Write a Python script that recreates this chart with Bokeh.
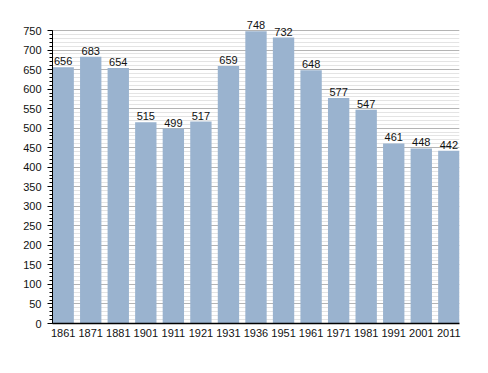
from bokeh.plotting import figure
from bokeh.models import Range1d, ColumnDataSource, LabelSet, FixedTicker, SingleIntervalTicker
from bokeh.core.properties import value
from bokeh.embed import file_html
from bokeh.resources import INLINE

years = ["1861", "1871", "1881", "1901", "1911", "1921", "1931", "1936",
         "1951", "1961", "1971", "1981", "1991", "2001", "2011"]
population = [656, 683, 654, 515, 499, 517, 659, 748, 732, 648, 577, 547, 461, 448, 442]

w = 0.775
idx = list(range(len(years)))
src = ColumnDataSource(dict(x=idx, top=population, lab=[str(v) for v in population]))

fh = 307
ytop = 750 * fh / 293.0

p = figure(frame_width=407, frame_height=fh, output_backend="svg", toolbar_location=None,
           x_range=Range1d(-w / 2, len(years) - 1 + w / 2), y_range=Range1d(0, ytop),
           min_border_left=52, min_border_right=22, min_border_top=16, min_border_bottom=34)
p.outline_line_color = None
p.background_fill_color = "white"

p.vbar(x="x", top="top", width=w, source=src, fill_color="#9ab3cf", line_color=None)

labels = LabelSet(x="x", y="top", text="lab", source=src, text_align="center",
                  text_baseline="bottom", y_offset=2, text_font_size="11px",
                  text_font=value("Liberation Sans"), text_color="#111111")
p.add_layout(labels)

# y axis
p.yaxis.ticker = SingleIntervalTicker(interval=50, num_minor_ticks=5)
p.yaxis.bounds = (0, 750)
p.yaxis.major_label_text_font = "Liberation Sans"
p.yaxis.major_label_text_font_size = "11px"
p.yaxis.major_label_text_color = "#111111"
p.yaxis.axis_line_color = "black"
p.yaxis.major_tick_line_color = "black"
p.yaxis.minor_tick_line_color = "black"
p.yaxis.major_tick_out = 5
p.yaxis.major_tick_in = 0
p.yaxis.minor_tick_out = 3
p.yaxis.minor_tick_in = 0
p.yaxis.major_label_standoff = 6

# x axis
p.xaxis.ticker = FixedTicker(ticks=idx)
p.xaxis.major_label_overrides = {i: y for i, y in enumerate(years)}
p.xaxis.major_label_text_font = "Liberation Sans"
p.xaxis.major_label_text_font_size = "11px"
p.xaxis.major_label_text_color = "#111111"
p.xaxis.axis_line_color = "black"
p.xaxis.axis_line_width = 1.5
p.xaxis.major_tick_line_color = None
p.xaxis.minor_tick_line_color = None
p.xaxis.major_label_standoff = -1

# grids
p.xgrid.grid_line_color = None
p.ygrid.ticker = SingleIntervalTicker(interval=50, num_minor_ticks=5)
p.ygrid.bounds = (0, 750)
p.ygrid.grid_line_color = "#b4b4b4"
p.ygrid.minor_grid_line_color = "#e4e4e4"

open("out.html", "w").write(file_html(p, INLINE))
